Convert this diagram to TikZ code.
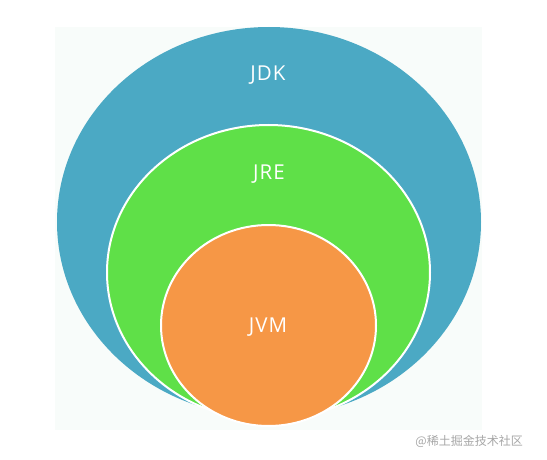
\documentclass[tikz,border=0pt]{standalone}
\usepackage{fontspec}
\setmainfont{Open Sans}
\newfontfamily\cjkfont{Noto Sans CJK SC}
\usetikzlibrary{positioning,shapes.geometric,backgrounds}
\definecolor{jdkblue}{HTML}{4BA9C4}
\definecolor{jregreen}{HTML}{5FE048}
\definecolor{jvmorange}{HTML}{F69746}
\definecolor{panelbg}{HTML}{F8FCFA}
\definecolor{markgrey}{HTML}{A6A6A6}
\tikzset{
  ring/.style ={ellipse, inner sep=0pt, outer sep=0pt},
  jdkring/.style ={ring, fill=jdkblue, minimum width=424pt, minimum height=390pt},
  jrering/.style ={ring, fill=jregreen, draw=white, line width=2pt, minimum width=323pt, minimum height=295pt},
  jvmring/.style ={ring, fill=jvmorange, draw=white, line width=2pt, minimum width=215pt, minimum height=201pt},
  lbl/.style ={text=white, inner sep=0pt, font=\addfontfeature{LetterSpace=5}\fontsize{20.5}{20.5}\selectfont},
  wmark/.style ={text=markgrey, inner sep=0pt, font=\cjkfont\fontsize{12}{12}\selectfont},
}

\begin{document}
\begin{tikzpicture}[x=1pt, y=-1pt]
\useasboundingbox (0,0) rectangle (547,460);
\fill[panelbg] (55,27) rectangle (482,430);
\node[jdkring] (jdk) at (269,222) {};
\node[jrering] (jre) at (268.5,272.5) {};
\node[jvmring] (jvm) at (268.5,325.5) {};
\node[lbl] (jdklbl) at (268,75) {JDK};
\node[lbl] (jrelbl) at (269,174) {JRE};
\node[lbl] (jvmlbl) at (268,327) {JVM};
\node[wmark, anchor=east] (mark) at (523,441) {@稀土掘金技术社区};
\end{tikzpicture}
\end{document}
